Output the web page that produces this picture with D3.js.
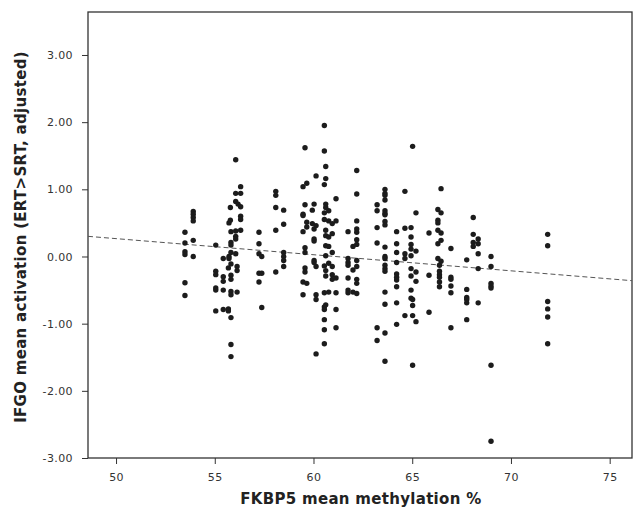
<!DOCTYPE html>
<html>
<head>
<meta charset="utf-8">
<script src="https://cdn.jsdelivr.net/npm/d3@7"></script>
<style>
  body { margin: 0; background: #fff; }
  svg { display: block; }
  .tick text { font-family: "DejaVu Sans", sans-serif; font-size: 11px; letter-spacing: 0.4px; fill: #333; }
  .tick line { stroke: #333; }
  .title { font-family: "DejaVu Sans", sans-serif; font-size: 15px; font-weight: bold; letter-spacing: 0.3px; fill: #222; }
</style>
</head>
<body>
<div id="chart"></div>
<script>
// methylation % of each column of dots and the activations stacked in it
const methylation = [53.49, 53.91, 55.05, 55.43, 55.69, 55.72, 55.79, 55.82, 56.06, 56.13, 56.18, 56.31,
  57.24, 57.38, 58.09, 58.49, 59.47, 59.57, 59.66, 59.94, 60.03, 60.13, 60.55, 60.62, 60.77, 60.95,
  61.14, 61.75, 62.0, 62.19, 63.22, 63.62, 64.21, 64.63, 64.94, 65.02, 65.19, 65.85, 66.30, 66.38,
  66.46, 66.96, 67.76, 68.09, 68.34, 68.99, 71.86];

const activation = [
  [0.36, 0.20, 0.07, 0.03, -0.39, -0.58],
  [0.67, 0.63, 0.58, 0.53, 0.24, 0.00],
  [0.17, -0.22, -0.27, -0.47, -0.50, -0.81],
  [-0.03, -0.30, -0.37, -0.50, -0.79],
  [-0.17, -0.78, -0.81],
  [0.50, 0.00, -0.03],
  [0.73, 0.54],
  [0.37, 0.21, 0.17, 0.06, -0.11, -0.28, -0.34, -0.52, -0.57, -0.91, -1.31, -1.49],
  [1.44, 0.94, 0.82, 0.38, 0.30, 0.26, 0.04],
  [-0.15, -0.21, -0.53],
  [0.78],
  [1.04, 0.94, 0.74, 0.60, 0.55, 0.39],
  [0.36, 0.19, 0.04, -0.25, -0.38],
  [0.00, -0.25, -0.76],
  [0.97, 0.91, 0.73, 0.39, -0.23],
  [0.69, 0.48, 0.06, 0.00, -0.06, -0.15],
  [1.04, 0.63, 0.61, 0.37, -0.38, -0.57],
  [1.62, 0.77, 0.13, 0.06, -0.17, -0.23],
  [1.09, 0.51, 0.44, -0.40],
  [0.69, 0.49],
  [0.78, 0.41, 0.26, 0.23, -0.06, -0.09],
  [1.20, 0.46, -0.15, -0.57, -0.64, -1.45],
  [1.95, 1.57, 1.07, 0.65, 0.55, -0.14, -0.54, -0.75, -0.79, -0.94, -1.09, -1.30],
  [1.34, 1.16, 0.78, 0.73, 0.39, 0.31, 0.16, 0.01, -0.21, -0.29, -0.72],
  [0.68, 0.53, 0.29, 0.15, -0.10, -0.53],
  [0.49, 0.34, 0.06, -0.15, -0.27, -0.34],
  [0.86, 0.53, -0.32, -0.54, -0.79, -1.06],
  [0.37, -0.03, -0.09, -0.13, -0.32, -0.50, -0.54],
  [0.15, -0.20, -0.53],
  [1.28, 0.93, 0.53, 0.41, 0.36, 0.25, 0.18, -0.06, -0.15, -0.34, -0.40, -0.55],
  [0.77, 0.68, 0.43, 0.20, -1.06, -1.25],
  [1.00, 0.94, 0.91, 0.84, 0.68, 0.64, 0.62, 0.52, 0.47, 0.14, 0.00, -0.03, -0.13, -0.18, -0.22, -0.53, -0.71, -1.14, -1.56],
  [0.37, 0.19, 0.06, -0.09, -0.26, -0.31, -0.35, -0.45, -0.69, -1.01],
  [0.97, 0.42, 0.04, -0.03, -0.88],
  [0.43, 0.29, 0.18, 0.11, 0.01, -0.18, -0.29, -0.50, -0.62],
  [1.64, -0.64, -0.73, -0.88, -1.62],
  [0.65, 0.08, -0.23, -0.37, -0.97],
  [0.35, -0.28, -0.83],
  [0.70, 0.54, 0.50, 0.39, 0.19, -0.03],
  [-0.13, -0.22, -0.27, -0.31, -0.38, -0.45],
  [1.01, 0.65, 0.35, 0.24, -0.07],
  [0.12, -0.31, -0.34, -0.44, -0.54, -1.06],
  [-0.05, -0.49, -0.61, -0.64, -0.69, -0.94],
  [0.58, 0.33, 0.21, 0.15],
  [0.26, 0.19, 0.04, -0.18, -0.69],
  [0.00, -0.15, -0.40, -0.44, -0.47, -1.62, -2.75],
  [0.33, 0.16, -0.67, -0.78, -0.90, -1.30]
];

// fit line end points (left and right edge of the plot)
const fitX = [48.58, 76.13];
const fitY = [0.30, -0.36];

const xTicks = [50, 55, 60, 65, 70, 75];
const yTicks = [-3, -2, -1, 0, 1, 2, 3];

let drawScatter = (locationId) => {
  const margin = { top: 12, right: 1, bottom: 50, left: 88 };
  const width = 633 - margin.left - margin.right;
  const height = 508 - margin.top - margin.bottom;

  const svg = d3.select(locationId)
    .append("svg")
    .attr("width", 633)
    .attr("height", 508);

  const g = svg.append("g").attr("transform", `translate(${margin.left},${margin.top})`);

  const xScale = d3.scaleLinear().domain([48.58, 76.13]).range([0, width]);
  const yScale = d3.scaleLinear().domain([-3, 3.64]).range([height, 0]);

  const points = [];
  methylation.forEach((m, i) => activation[i].forEach((a) => points.push({ x: m, y: a })));

  // axes
  g.append("g")
    .attr("transform", `translate(0,${height})`)
    .call(d3.axisBottom(xScale).tickValues(xTicks).tickSize(6).tickPadding(9))
    .call((a) => a.select(".domain").remove());

  g.append("g")
    .call(d3.axisLeft(yScale).tickValues(yTicks).tickFormat((d) => d.toFixed(2)).tickSize(6).tickPadding(9))
    .call((a) => a.select(".domain").remove());

  // frame
  g.append("rect")
    .attr("x", 0).attr("y", 0)
    .attr("width", width).attr("height", height)
    .attr("fill", "none")
    .attr("stroke", "#333")
    .attr("stroke-width", 1.3);

  // fit line
  g.append("path")
    .datum(fitX.map((x, i) => ({ x: x, y: fitY[i] })))
    .attr("fill", "none")
    .attr("stroke", "#555")
    .attr("stroke-width", 1)
    .attr("stroke-dasharray", "5,3")
    .attr("d", d3.line().x((d) => xScale(d.x)).y((d) => yScale(d.y)));

  // dots
  g.selectAll("circle")
    .data(points)
    .join("circle")
    .attr("cx", (d) => xScale(d.x))
    .attr("cy", (d) => yScale(d.y))
    .attr("r", 2.7)
    .attr("fill", "#1c1c1c");

  // titles
  svg.append("text")
    .attr("class", "title")
    .attr("x", margin.left + xScale(62.4))
    .attr("y", 504)
    .attr("text-anchor", "middle")
    .text("FKBP5 mean methylation %");

  svg.append("text")
    .attr("class", "title")
    .attr("transform", "translate(26,237) rotate(-90)")
    .attr("text-anchor", "middle")
    .text("IFGO mean activation (ERT>SRT, adjusted)");
};

drawScatter("#chart");
</script>
</body>
</html>
